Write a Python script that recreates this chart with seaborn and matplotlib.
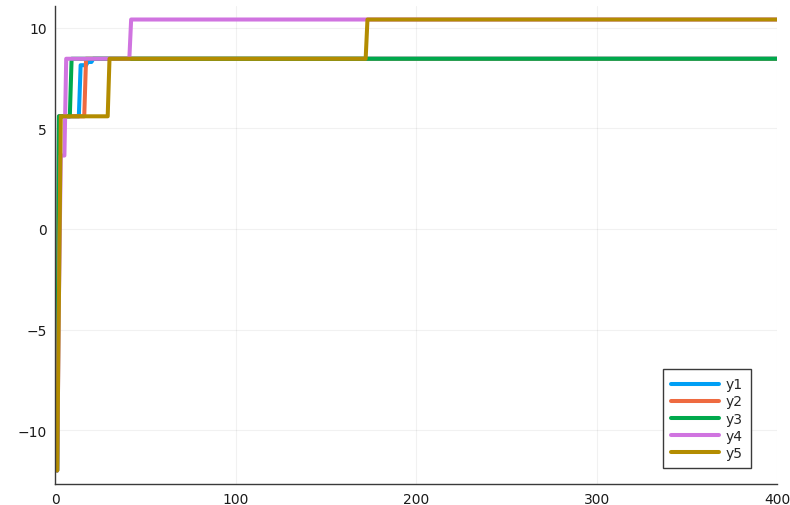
import numpy as np
import pandas as pd
import matplotlib
matplotlib.use("Agg")
import matplotlib.pyplot as plt
import seaborn as sns

# Iteration axis and running-best breakpoints (iteration, value) for each run;
# the value is held until the next breakpoint.
n_iter = 400
series_names = ["y1", "y2", "y3", "y4", "y5"]
y1_steps = [(1, -12.0), (2, 5.6), (14, 8.14), (18, 8.30), (21, 8.46)]
y2_steps = [(1, -12.0), (2, 5.6), (17, 8.46)]
y3_steps = [(1, -12.0), (2, 5.6), (9, 8.46)]
y4_steps = [(1, -12.0), (2, -3.2), (3, 3.65), (6, 8.46), (42, 10.41)]
y5_steps = [(1, -12.0), (2, -3.2), (3, 5.6), (30, 8.46), (173, 10.41)]
colors = ["#009ff5", "#ee6a40", "#00a94c", "#d074e0", "#b38c00"]

x_ticks = [0, 100, 200, 300, 400]
y_ticks = [-10, -5, 0, 5, 10]


def hold_steps(steps, n):
    """Expand (iteration, value) breakpoints into one value per iteration."""
    it = np.arange(1, n + 1)
    vals = np.empty(n)
    for i, (start, v) in enumerate(steps):
        stop = steps[i + 1][0] if i + 1 < len(steps) else n + 1
        vals[(it >= start) & (it < stop)] = v
    return it, vals


frames = []
for name, steps in zip(series_names,
                       [y1_steps, y2_steps, y3_steps, y4_steps, y5_steps]):
    it, vals = hold_steps(steps, n_iter)
    frames.append(pd.DataFrame({"iteration": it, "value": vals, "series": name}))
df = pd.concat(frames, ignore_index=True)

sns.set_style("white")
plt.rcParams["font.family"] = ["DejaVu Sans"]

fig = plt.figure(figsize=(7.9, 5.06), dpi=100)
ax = fig.add_axes([0.0701, 0.0415, 0.9134, 0.9447])

sns.lineplot(data=df, x="iteration", y="value", hue="series",
             hue_order=series_names, palette=colors, estimator=None,
             linewidth=2.9, ax=ax)

# axis limits: fixed x range, 3 % padding around the data in y
ymin, ymax = df["value"].min(), df["value"].max()
pad = 0.03 * (ymax - ymin)
ax.set_xlim(0, 400)
ax.set_ylim(ymin - pad, ymax + pad)
ax.set_xticks(x_ticks)
ax.set_yticks(y_ticks)
ax.set_xlabel("")
ax.set_ylabel("")

ax.grid(True, color="#000000", alpha=0.055, linewidth=0.8)
for side in ["top", "right"]:
    ax.spines[side].set_visible(False)
for side in ["left", "bottom"]:
    ax.spines[side].set_color("#3a3a3a")
    ax.spines[side].set_linewidth(1.0)
ax.tick_params(direction="in", length=4.5, width=0.9, color="#3a3a3a",
               labelsize=10, labelcolor="#1a1a1a", pad=6)

leg = ax.legend(loc="lower right", bbox_to_anchor=(0.964, 0.0335),
                borderaxespad=0, fontsize=10, frameon=True, fancybox=False,
                framealpha=1, edgecolor="#3a3a3a", handlelength=3.4,
                handletextpad=0.5, labelspacing=0.22, borderpad=0.6)
leg.get_frame().set_linewidth(1.0)
for line in leg.get_lines():
    line.set_linewidth(2.9)

fig.savefig("out.png", dpi=100)
